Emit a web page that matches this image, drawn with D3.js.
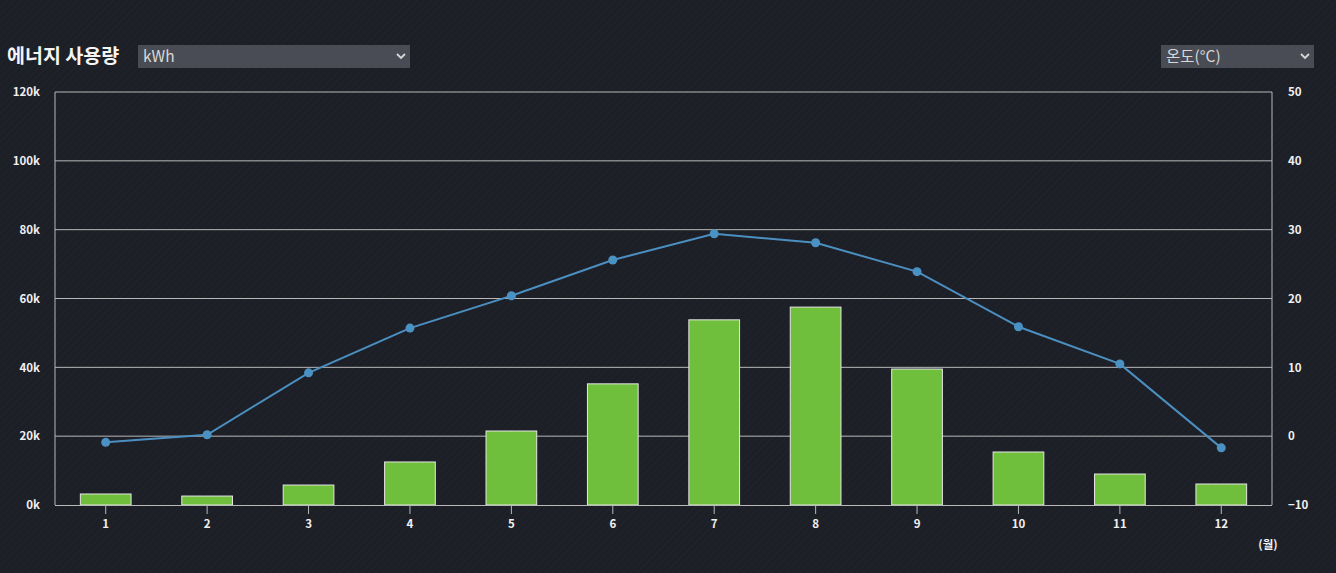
<!DOCTYPE html>
<html><head><meta charset="utf-8">
<script src="https://cdn.jsdelivr.net/npm/d3@7"></script>
<style>
html,body{margin:0;padding:0;background:#1d1f27;}
svg{display:block;}
text{font-family:"Noto Sans CJK KR","Noto Sans",sans-serif;}
</style></head>
<body>
<div id="chart"></div>
<script>
const months = ["1","2","3","4","5","6","7","8","9","10","11","12"];
const energy = [3200, 2600, 5800, 12500, 21500, 35200, 53800, 57500, 39500, 15400, 9000, 6100];
const temperature = [-0.9, 0.2, 9.2, 15.7, 20.4, 25.6, 29.4, 28.1, 23.9, 15.9, 10.5, -1.7];
const leftTicks = [0, 20000, 40000, 60000, 80000, 100000, 120000];
const rightTicks = [-10, 0, 10, 20, 30, 40, 50];

const W = 1336, H = 573;
const m = {left:55, right:64, top:92, bottom:68};
const svg = d3.select("#chart").append("svg").attr("width", W).attr("height", H);

// background with faint diagonal texture
const defs = svg.append("defs");
const pat = defs.append("pattern").attr("id","diag").attr("width",5).attr("height",5)
  .attr("patternUnits","userSpaceOnUse").attr("patternTransform","rotate(45)");
pat.append("rect").attr("width",5).attr("height",5).attr("fill","#1d1f27");
pat.append("line").attr("x1",0).attr("y1",0).attr("x2",0).attr("y2",5)
  .attr("stroke","#21242c").attr("stroke-width",1.5);
svg.append("rect").attr("width",W).attr("height",H).attr("fill","url(#diag)");

const x = d3.scaleBand().domain(months).range([m.left, W - m.right]).paddingInner(0.5).paddingOuter(0.25);
const yL = d3.scaleLinear().domain([0, 120000]).range([H - m.bottom, m.top]);
const yR = d3.scaleLinear().domain([-10, 50]).range([H - m.bottom, m.top]);

// gridlines
svg.append("g").selectAll("line").data(leftTicks.slice(1)).join("line")
  .attr("x1", m.left).attr("x2", W - m.right)
  .attr("y1", d => yL(d)).attr("y2", d => yL(d))
  .attr("stroke", "#b8b8b8").attr("stroke-width", 1);
// plot frame left/right
svg.append("line").attr("x1", m.left).attr("x2", m.left).attr("y1", m.top).attr("y2", H - m.bottom)
  .attr("stroke","#b8b8b8");
svg.append("line").attr("x1", W - m.right).attr("x2", W - m.right).attr("y1", m.top).attr("y2", H - m.bottom)
  .attr("stroke","#b8b8b8");

// bars
svg.append("g").selectAll("rect").data(energy).join("rect")
  .attr("x", (d,i) => x(months[i]))
  .attr("y", d => yL(d))
  .attr("width", x.bandwidth())
  .attr("height", d => yL(0) - yL(d))
  .attr("fill", "#70bf3c").attr("stroke", "#e6e6e6").attr("stroke-width", 1);

// bottom axis
const xAxis = svg.append("g").attr("transform", `translate(0,${H - m.bottom})`)
  .call(d3.axisBottom(x).tickSize(9).tickPadding(6));
xAxis.select(".domain").attr("stroke","#b8b8b8").attr("d", `M${m.left},0.5H${W - m.right}`);
xAxis.selectAll(".tick line").attr("stroke","#b8b8b8");
xAxis.selectAll("text").attr("fill","#f0f0f0").attr("font-size",11.5).attr("font-weight","bold");

// left axis
const lAxis = svg.append("g").attr("transform", `translate(${m.left},0)`)
  .call(d3.axisLeft(yL).tickValues(leftTicks).tickSize(0).tickPadding(15).tickFormat(d => (d/1000) + "k"));
lAxis.select(".domain").remove();
lAxis.selectAll("text").attr("fill","#f0f0f0").attr("font-size",11.5).attr("font-weight","bold");

// right axis
const rAxis = svg.append("g").attr("transform", `translate(${W - m.right},0)`)
  .call(d3.axisRight(yR).tickValues(rightTicks).tickSize(0).tickPadding(16));
rAxis.select(".domain").remove();
rAxis.selectAll("text").attr("fill","#f0f0f0").attr("font-size",11.5).attr("font-weight","bold");

// temperature line
const cx = (d,i) => x(months[i]) + x.bandwidth()/2;
svg.append("path").datum(temperature)
  .attr("fill","none").attr("stroke","#4b8fc0").attr("stroke-width",2)
  .attr("d", d3.line().x(cx).y(d => yR(d)));
svg.append("g").selectAll("circle").data(temperature).join("circle")
  .attr("cx", cx).attr("cy", d => yR(d)).attr("r", 4.5).attr("fill","#4b92c4");

// unit label
svg.append("text").attr("x", 1268).attr("y", 549).attr("text-anchor","middle")
  .attr("fill","#f0f0f0").attr("font-size",11.5).attr("font-weight","bold").text("(월)");

// title
svg.append("text").attr("x", 7).attr("y", 63).attr("fill","#f4f4f4")
  .attr("font-size",19.5).attr("font-weight","bold").text("에너지 사용량");

// dropdowns
function dropdown(x0, w, label){
  const g = svg.append("g");
  g.append("rect").attr("x", x0).attr("y", 45).attr("width", w).attr("height", 23).attr("fill","#494c54");
  g.append("text").attr("x", x0 + 5).attr("y", 62).attr("fill","#d8d8d8").attr("font-size",15.5)
    .text(label);
  const ax = x0 + w - 9, ay = 56;
  g.append("path").attr("d", `M${ax-4},${ay-2}L${ax},${ay+2}L${ax+4},${ay-2}`)
    .attr("fill","none").attr("stroke","#d8d8d8").attr("stroke-width",1.8);
}
dropdown(138, 272, "kWh");
dropdown(1161, 153, "온도(°C)");
</script>
</body></html>
